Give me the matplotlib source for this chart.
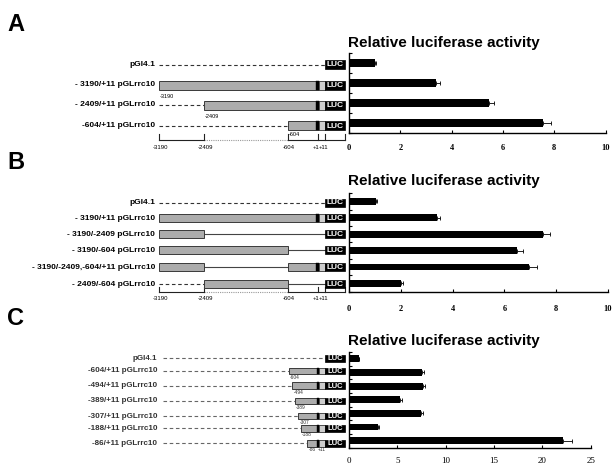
import numpy as np
import matplotlib
matplotlib.use("Agg")
import matplotlib.pyplot as plt
from matplotlib.patches import Rectangle

# ---------------- data ----------------
A_labels = ["pGl4.1", "- 3190/+11 pGLrrc10", "- 2409/+11 pGLrrc10", "-604/+11 pGLrrc10"]
A_starts = [None, -3190, -2409, -604]
A_values = [1.0, 3.4, 5.45, 7.55]
A_errors = [0.04, 0.14, 0.2, 0.33]

B_labels = ["pGl4.1", "- 3190/+11 pGLrrc10", "- 3190/-2409 pGLrrc10", "- 3190/-604 pGLrrc10",
            "- 3190/-2409,-604/+11 pGLrrc10", "- 2409/-604 pGLrrc10"]
B_segments = [[], [(-3190, 11)], [(-3190, -2409)], [(-3190, -604)],
              [(-3190, -2409), (-604, 11)], [(-2409, -604)]]
B_values = [1.03, 3.4, 7.5, 6.5, 6.95, 2.0]
B_errors = [0.05, 0.1, 0.26, 0.22, 0.3, 0.09]

C_labels = ["pGl4.1", "-604/+11 pGLrrc10", "-494/+11 pGLrrc10", "-389/+11 pGLrrc10",
            "-307/+11 pGLrrc10", "-188/+11 pGLrrc10", "-86/+11 pGLrrc10"]
C_starts = [None, -604, -494, -389, -307, -188, -86]
C_values = [1.0, 7.55, 7.65, 5.3, 7.45, 2.95, 22.1]
C_errors = [0.05, 0.2, 0.24, 0.2, 0.24, 0.14, 0.93]

AB_ticks = [0, 2, 4, 6, 8, 10]
C_ticks = [0, 5, 10, 15, 20, 25]
scale_ticks_bp = [-3190, -2409, -604, 1, 11]
scale_tick_labels = ["-3190", "-2409", "-604", "+1", "+11"]

TITLE = "Relative luciferase activity"

# ---------------- layout (pixel space) ----------------
W, H = 612, 463
fig = plt.figure(figsize=(W / 100, H / 100), dpi=100)
fig.patch.set_facecolor("white")

ov = fig.add_axes([0, 0, 1, 1])
ov.set_xlim(0, W)
ov.set_ylim(H, 0)
ov.axis("off")
ov.patch.set_alpha(0)

# schematic map: bp -> horizontal pixel position
AB_BP = [-3190, -2409, -604, 1, 11]
AB_PX = [159, 204, 288, 318, 324.5]
C_BP = [-604, -494, -389, -307, -188, -86, 11]
C_PX = [289, 292.3, 295, 298.3, 301, 307.3, 325]
LUC_X = (325, 345)
MARK_AB = (315.5, 319)
MARK_C = (316.7, 319.3)

GREY = "#acacac"
EDGE = "#3a3a3a"
LIGHT = "#cdcdcd"
LABEL_FONT = ["Liberation Sans", "DejaVu Sans"]


def xab(bp):
    return float(np.interp(bp, AB_BP, AB_PX))


def xc(bp):
    return float(np.interp(bp, C_BP, C_PX))


def dashed(y, x0, x1, color="#333333"):
    ov.plot([x0, x1], [y, y], color=color, lw=0.8, ls=(0, (3.2, 2.4)), zorder=2)


def thin(y, x0, x1):
    ov.plot([x0, x1], [y, y], color="#444444", lw=0.8, zorder=2)


def luc(y, h, fs=6):
    ov.add_patch(Rectangle((LUC_X[0], y - h / 2), LUC_X[1] - LUC_X[0], h,
                           facecolor="black", edgecolor="black", lw=0.5, zorder=4))
    ov.text((LUC_X[0] + LUC_X[1]) / 2, y + 0.3, "LUC", color="white", fontsize=fs,
            fontweight="bold", ha="center", va="center", family=LABEL_FONT, zorder=5)


def grey_box(y, x0, x1, h, mark=None):
    ov.add_patch(Rectangle((x0, y - h / 2), x1 - x0, h, facecolor=GREY,
                           edgecolor=EDGE, lw=0.7, zorder=3))
    if mark is not None:
        ov.add_patch(Rectangle((mark[1], y - h / 2), x1 - mark[1], h, facecolor=LIGHT,
                               edgecolor=EDGE, lw=0.5, zorder=3))
        ov.add_patch(Rectangle((mark[0], y - h / 2), mark[1] - mark[0], h,
                               facecolor="black", edgecolor="black", lw=0.3, zorder=3))


def row_label(y, x, text, fs=6, color="black"):
    ov.text(x, y, text, fontsize=fs, fontweight="bold", ha="right", va="center",
            family=LABEL_FONT, color=color)


def scale_bar(y, ylab):
    xs = [xab(b) for b in scale_ticks_bp]
    ov.plot([xs[0], xs[1]], [y, y], color="#222222", lw=0.8)
    ov.plot([xs[1], xs[2]], [y, y], color="#999999", lw=0.8, ls=(0, (1, 1)))
    ov.plot([xs[2], LUC_X[1]], [y, y], color="#222222", lw=0.8)
    for x in xs + [LUC_X[1]]:
        ov.plot([x, x], [y, y - 5.5], color="#222222", lw=0.8)
    for x, t in zip(xs[:3], scale_tick_labels[:3]):
        ov.text(x + 1, ylab, t, fontsize=4.3, ha="center", va="center", family=LABEL_FONT)
    ov.text(xs[3] + 1, ylab, scale_tick_labels[3], fontsize=4.3, ha="right", va="center",
            family=LABEL_FONT)
    ov.text(xs[3] + 1, ylab, scale_tick_labels[4], fontsize=4.3, ha="left", va="center",
            family=LABEL_FONT)


# ---------------- panel A diagram ----------------
A_rows_y = [64.5, 85, 105, 125.7]
A_sub_off = [None, 11.5, 12, 8.5]
LEAD_AB = 159
hA = 9
for i, (lab, st) in enumerate(zip(A_labels, A_starts)):
    y = A_rows_y[i]
    row_label(y, 155, lab)
    if st is None:
        dashed(y, LEAD_AB, LUC_X[0])
    else:
        x0 = xab(st)
        if x0 > LEAD_AB + 1:
            dashed(y, LEAD_AB, x0)
        grey_box(y, x0, LUC_X[0], hA, MARK_AB)
        ov.text(x0 + 1, y + A_sub_off[i], str(st), fontsize=4, ha="left", va="center",
                family=LABEL_FONT)
    luc(y, hA)
scale_bar(139.5, 147.5)

# ---------------- panel B diagram ----------------
B_rows_y = [202.7, 218.3, 234, 250, 267.3, 284.3]
hB = 8
for i, (lab, segs) in enumerate(zip(B_labels, B_segments)):
    y = B_rows_y[i]
    row_label(y, 155, lab)
    if not segs:
        dashed(y, LEAD_AB, LUC_X[0])
    else:
        first = xab(segs[0][0])
        if first > LEAD_AB + 1:
            dashed(y, LEAD_AB, first)
        prev_end = None
        for (s, e) in segs:
            x0 = xab(s)
            if prev_end is not None:
                thin(y, prev_end, x0)
            if e >= 11:
                grey_box(y, x0, LUC_X[0], hB, MARK_AB)
                prev_end = LUC_X[0]
            else:
                grey_box(y, x0, xab(e), hB)
                prev_end = xab(e)
        if prev_end < LUC_X[0]:
            thin(y, prev_end, LUC_X[0])
    luc(y, hB)
scale_bar(292, 298.5)

# ---------------- panel C diagram ----------------
C_rows_y = [358.3, 371, 385.7, 401, 416, 428.3, 443.3]
LEAD_C = 163
hC = 6.7
for i, (lab, st) in enumerate(zip(C_labels, C_starts)):
    y = C_rows_y[i]
    row_label(y, 157, lab, fs=5.8, color="#333333")
    if st is None:
        dashed(y, LEAD_C, LUC_X[0], color="#666666")
    else:
        x0 = xc(st)
        dashed(y, LEAD_C, x0, color="#666666")
        grey_box(y, x0, LUC_X[0], hC, MARK_C)
        ov.text(x0 + 1, y + 6.5, str(st), fontsize=3.5, ha="left", va="center",
                family=LABEL_FONT, color="#333333")
        if i == len(C_starts) - 1:
            ov.text(MARK_C[0] + 1, y + 6.5, "+11", fontsize=3.5, ha="left", va="center",
                    family=LABEL_FONT, color="#333333")
    luc(y, hC, fs=5.5)

# ---------------- panel letters ----------------
for letter, ytop in [("A", 13), ("B", 151), ("C", 307)]:
    ov.text(7, ytop, letter, fontsize=17, fontweight="bold", ha="left", va="top",
            family=LABEL_FONT)

# ---------------- bar charts ----------------


def bar_axes(left, right, top, bottom):
    return fig.add_axes([left / W, 1 - bottom / H, (right - left) / W, (bottom - top) / H])


def bar_panel(ax, values, errors, xmax, ticks, bh, tick_font, tick_weight, tick_fs, pad,
              title_y):
    n = len(values)
    pos = np.arange(n) + 0.5
    ax.barh(pos, values, height=bh, color="black", zorder=2)
    ax.errorbar(values, pos, xerr=[np.zeros(n), errors], fmt="none", ecolor="black",
                elinewidth=0.6, capsize=1.6, capthick=0.6, zorder=3)
    ax.set_xlim(0, xmax)
    ax.set_ylim(n, 0)
    ax.set_yticks(np.arange(n + 1))
    ax.set_yticklabels([])
    ax.set_xticks(ticks)
    ax.set_xticklabels([str(t) for t in ticks], fontsize=tick_fs, fontweight=tick_weight,
                       family=tick_font)
    ax.tick_params(axis="both", direction="in", length=2.5, width=0.8, color="black")
    ax.tick_params(axis="x", pad=pad)
    for s in ["top", "right"]:
        ax.spines[s].set_visible(False)
    for s in ["left", "bottom"]:
        ax.spines[s].set_linewidth(1.0)
    ax.patch.set_alpha(0)
    ov.text(348, title_y, TITLE, fontsize=11, fontweight="bold", ha="left",
            va="baseline", family=LABEL_FONT)


axA = bar_axes(349, 605.6, 52.7, 133.3)
bar_panel(axA, A_values, A_errors, 10, AB_ticks, 0.42, ["Liberation Serif", "DejaVu Serif"],
          "bold", 6, 7.5, 47.5)

axB = bar_axes(349, 608, 193.3, 291.5)
bar_panel(axB, B_values, B_errors, 10, AB_ticks, 0.42, ["Liberation Serif", "DejaVu Serif"],
          "bold", 6, 9.5, 184.5)

axC = bar_axes(349, 590.7, 352, 447.5)
bar_panel(axC, C_values, C_errors, 25, C_ticks, 0.5, ["Liberation Serif", "DejaVu Serif"],
          "normal", 6.5, 6.5, 345.5)

fig.savefig("out.png", dpi=100, facecolor="white")
